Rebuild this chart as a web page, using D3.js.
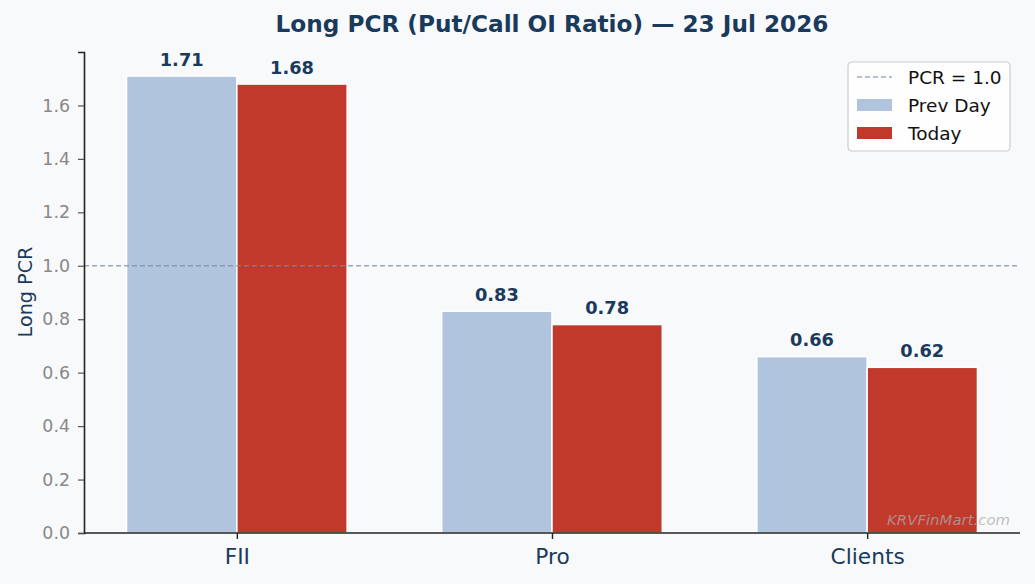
<!DOCTYPE html>
<html><head><meta charset="utf-8">
<script src="https://cdn.jsdelivr.net/npm/d3@7"></script>
<style>
html,body{margin:0;padding:0;background:#f8f9fb;}
svg{display:block;font-family:"DejaVu Sans",sans-serif;}
</style></head>
<body><svg id="c" width="1035" height="584"></svg>
<script>
const categories = ["FII", "Pro", "Clients"];
const prevDay = [1.71, 0.83, 0.66];
const today = [1.68, 0.78, 0.62];
const yTicks = [0.0, 0.2, 0.4, 0.6, 0.8, 1.0, 1.2, 1.4, 1.6];
const seriesNames = ["Prev Day", "Today"];
const refLevel = 1.0;
const titleText = "Long PCR (Put/Call OI Ratio) \u2014 23 Jul 2026";

const W = 1035, H = 584;
const m = {l: 84, r: 15, t: 52, b: 51};
const svg = d3.select("#c");
svg.append("rect").attr("width", W).attr("height", H).attr("fill", "#f8f9fb");

const barW = 0.35;
const x = d3.scaleLinear().domain([-0.485, 2.485]).range([m.l, W - m.r]);
const yMax = d3.max(prevDay.concat(today)) * 1.0526;
const y = d3.scaleLinear().domain([0, yMax]).range([H - m.b, m.t]);

const colors = ["#b0c4de", "#c0392b"];
const series = [prevDay, today];

series.forEach((vals, si) => {
  const off = si === 0 ? -barW / 2 : barW / 2;
  svg.append("g").selectAll("rect").data(vals).join("rect")
    .attr("x", (d, i) => x(i + off - barW / 2))
    .attr("width", (d, i) => x(i + off + barW / 2) - x(i + off - barW / 2))
    .attr("y", d => y(d))
    .attr("height", d => y(0) - y(d))
    .attr("fill", colors[si])
    .attr("stroke", "#ffffff").attr("stroke-width", 1.5);
  svg.append("g").selectAll("text").data(vals).join("text")
    .attr("x", (d, i) => x(i + off))
    .attr("y", d => y(d) - 10.5)
    .attr("text-anchor", "middle")
    .attr("font-size", 17.8).attr("font-weight", "bold")
    .attr("fill", "#1a3a5c")
    .text(d => d.toFixed(2));
});

// reference line
svg.append("line")
  .attr("x1", m.l).attr("x2", W - m.r)
  .attr("y1", y(refLevel)).attr("y2", y(refLevel))
  .attr("stroke", "#7d8ea8").attr("stroke-opacity", 0.75)
  .attr("stroke-width", 1.3).attr("stroke-dasharray", "5,3");

// y axis
const yAxis = svg.append("g").attr("transform", `translate(${m.l},0)`)
  .call(d3.axisLeft(y).tickValues(yTicks).tickFormat(d3.format(".1f")).tickSize(6).tickPadding(8));
yAxis.select(".domain").attr("stroke", "#222").attr("stroke-width", 1.6);
yAxis.selectAll(".tick line").attr("stroke", "#555").attr("stroke-width", 1.2);
yAxis.selectAll(".tick text").attr("fill", "#888").attr("font-size", 17.4)
  .attr("font-family", "DejaVu Sans");

// x axis
const xAxis = svg.append("g").attr("transform", `translate(0,${H - m.b})`)
  .call(d3.axisBottom(x).tickValues([0, 1, 2]).tickFormat(i => categories[i]).tickSize(6).tickPadding(9));
xAxis.select(".domain").attr("stroke", "#222").attr("stroke-width", 1.6)
  .attr("d", `M${m.l},0H${W - m.r}`);
xAxis.selectAll(".tick line").attr("stroke", "#222").attr("stroke-width", 1.4);
xAxis.selectAll(".tick text").attr("fill", "#1a3a5c").attr("font-size", 21.7)
  .attr("font-family", "DejaVu Sans").attr("dy", "0.72em");

// y label
svg.append("text")
  .attr("transform", `translate(32,292) rotate(-90)`)
  .attr("text-anchor", "middle")
  .attr("font-size", 19.2).attr("fill", "#1a3a5c")
  .text("Long PCR");

// title
svg.append("text")
  .attr("x", (m.l + W - m.r) / 2).attr("y", 32)
  .attr("text-anchor", "middle")
  .attr("font-size", 23.2).attr("font-weight", "bold").attr("fill", "#1a3a5c")
  .text(titleText);

// watermark
svg.append("text")
  .attr("x", 1010).attr("y", 525)
  .attr("text-anchor", "end")
  .attr("font-size", 14.9).attr("font-style", "italic")
  .attr("fill", "#aaa").attr("fill-opacity", 0.75)
  .text("KRVFinMart.com");

// legend
const lg = svg.append("g").attr("transform", "translate(848,62)");
lg.append("rect").attr("width", 162).attr("height", 89).attr("rx", 4)
  .attr("fill", "#ffffff").attr("fill-opacity", 0.8)
  .attr("stroke", "#cccccc").attr("stroke-width", 1.2);
const legItems = [
  {label: "PCR = " + refLevel.toFixed(1), type: "line"},
  {label: seriesNames[0], type: "rect", color: colors[0]},
  {label: seriesNames[1], type: "rect", color: colors[1]}
];
legItems.forEach((it, i) => {
  const cy = 15 + i * 28;
  if (it.type === "line") {
    lg.append("line").attr("x1", 9).attr("x2", 44).attr("y1", cy).attr("y2", cy)
      .attr("stroke", "#7d8ea8").attr("stroke-opacity", 0.75)
      .attr("stroke-width", 1.3).attr("stroke-dasharray", "5,3");
  } else {
    lg.append("rect").attr("x", 9).attr("y", cy - 6).attr("width", 35).attr("height", 12)
      .attr("fill", it.color);
  }
  lg.append("text").attr("x", 60).attr("y", cy + 6.5)
    .attr("font-size", 18.5).attr("fill", "#111")
    .text(it.label);
});
</script></body></html>
